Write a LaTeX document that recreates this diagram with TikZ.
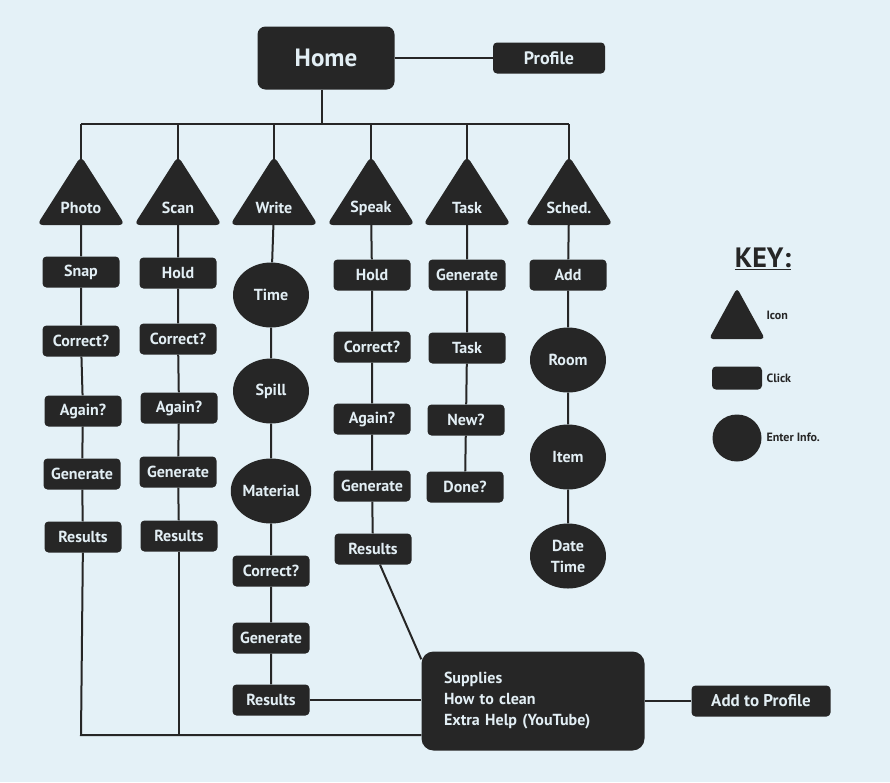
\documentclass[tikz,border=0pt]{standalone}
\usepackage{fontspec}
\setmainfont{PT Sans}
\usetikzlibrary{positioning,shapes.geometric,calc}
\definecolor{paper}{RGB}{228,241,247}
\definecolor{ink}{RGB}{38,38,38}
\definecolor{chalk}{RGB}{226,238,244}

\begin{document}
\begin{tikzpicture}[x=1pt, y=-1pt,
    link/.style={draw=ink, line width=2pt},
    label/.style={font=\fontsize{16}{21}\selectfont\bfseries},
    click/.style={rectangle, fill=ink, text=chalk, rounded corners=4pt, minimum width=77pt, minimum height=31pt, inner sep=2pt, label},
    icon/.style={rectangle, text=chalk, inner sep=1pt, label},
    enter/.style={ellipse, fill=ink, text=chalk, minimum width=76pt, minimum height=65pt, inner sep=0pt, align=center, label},
    keytext/.style={text=ink, anchor=west, font=\fontsize{12}{14}\selectfont\bfseries},
    triangle/.pic={\fill[ink, rounded corners=6pt] (-44,17) -- (0,-52) -- (44,17) -- cycle;}
]
\fill[paper] (0,0) rectangle (890,782);
\useasboundingbox (0,0) rectangle (890,782);

% top
\node[click, minimum width=137pt, minimum height=63pt, rounded corners=8pt, font=\fontsize{25}{28}\selectfont\bfseries] (home) at (326,58) {Home};
\node[click, minimum width=112pt, font=\fontsize{18}{20}\selectfont\bfseries] (profile) at (549,58) {Profile};

% icons
\foreach \x/\n/\t in {81/photo/Photo, 178/scan/Scan, 274/write/Write, 371/speak/Speak, 467/task/Task, 569/sched/Sched.} {
    \pic at (\x,208) {triangle};
    \node[icon] (\n) at (\x,208) {\t};
}

% photo
\node[click] (snap) at (81,272) {Snap};
\node[click] (pcorrect) at (81,341) {Correct?};
\node[click] (pagain) at (83,411) {Again?};
\node[click] (pgenerate) at (82,474) {Generate};
\node[click] (presults) at (83,537) {Results};

% scan
\node[click] (shold) at (178,273) {Hold};
\node[click] (scorrect) at (178,339) {Correct?};
\node[click] (sagain) at (179,408) {Again?};
\node[click] (sgenerate) at (178,472) {Generate};
\node[click] (sresults) at (179,536) {Results};

% write
\node[enter] (time) at (271,295) {Time};
\node[enter] (spill) at (271,391) {Spill};
\node[enter] (material) at (271,491) {Material};
\node[click] (wcorrect) at (271,571) {Correct?};
\node[click] (wgenerate) at (271,638) {Generate};
\node[click] (wresults) at (271,700) {Results};

% speak
\node[click] (khold) at (372,275) {Hold};
\node[click] (kcorrect) at (372,347) {Correct?};
\node[click] (kagain) at (372,419) {Again?};
\node[click] (kgenerate) at (372,486) {Generate};
\node[click] (kresults) at (373,549) {Results};

% task
\node[click] (tgenerate) at (467,275) {Generate};
\node[click] (ttask) at (467,348) {Task};
\node[click] (tnew) at (466,420) {New?};
\node[click] (tdone) at (465,487) {Done?};

% schedule
\node[click] (add) at (568,275) {Add};
\node[enter] (room) at (568,360) {Room};
\node[enter] (item) at (568,457) {Item};
\node[enter] (datetime) at (568,556) {Date\\Time};

% output
\node[click, minimum width=223pt, minimum height=99pt, rounded corners=12pt, text width=178pt, align=left] (extra) at (533,701) {Supplies\\How to clean\\Extra Help (YouTube)};
\node[click, minimum width=139pt, font=\fontsize{17}{20}\selectfont\bfseries] (addprofile) at (761,701) {Add to Profile};

% key
\node[text=ink, font=\fontsize{28}{30}\selectfont\bfseries] (key) at (763,259) {\underline{KEY:}};
\fill[ink, rounded corners=4pt] (709,339) -- (737,288) -- (765,339) -- cycle;
\node[click, minimum width=50pt, minimum height=23pt] (keyclick) at (737,378) {};
\node[enter, minimum width=49pt, minimum height=47pt] (keyenter) at (737,438) {};
\node[keytext] (keyicontext) at (763,315) {Icon};
\node[keytext] (keyclicktext) at (763,378) {Click};
\node[keytext] (keyentertext) at (763,437) {Enter Info.};

% connectors
\coordinate (bus) at (322,124);
\coordinate (loop) at (81,735);
\draw[link] (home) -- (profile);
\draw[link] (home.south -| bus) -- (bus);
\draw[link] (photo |- bus) -- (sched |- bus);
\foreach \n in {photo,scan,write,speak,task,sched}
    \draw[link] (\n) -- (\n |- bus);
\draw[link] (photo) -- (snap) -- (pcorrect) -- (pagain) -- (pgenerate) -- (presults);
\draw[link] (scan) -- (shold) -- (scorrect) -- (sagain) -- (sgenerate) -- (sresults);
\draw[link] (write) -- (time) -- (spill) -- (material) -- (wcorrect) -- (wgenerate) -- (wresults);
\draw[link] (speak) -- (khold) -- (kcorrect) -- (kagain) -- (kgenerate) -- (kresults);
\draw[link] (task) -- (tgenerate) -- (ttask) -- (tnew) -- (tdone);
\draw[link] (sched) -- (add) -- (room) -- (item) -- (datetime);
\draw[link] (presults) -- (loop) -- (loop -| extra.west);
\draw[link] (sresults) -- (sresults |- loop);
\draw[link] (wresults) -- (wresults -| extra.west);
\draw[link] ([xshift=7pt]kresults.south) -- ([yshift=-8pt]extra.north west);
\draw[link] (extra) -- (addprofile);
\end{tikzpicture}
\end{document}
